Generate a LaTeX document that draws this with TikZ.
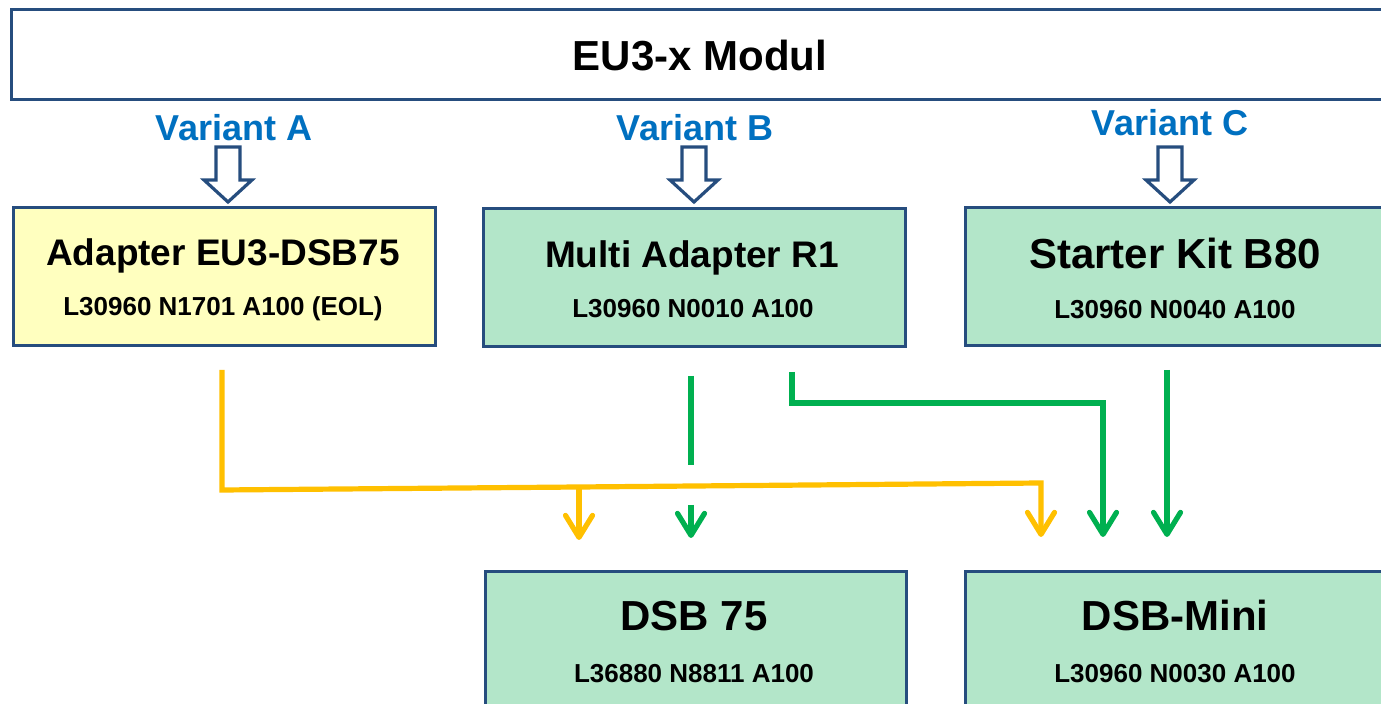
\documentclass[tikz,border=0pt]{standalone}
\usepackage{fontspec}
\setmainfont{Liberation Sans}
\usetikzlibrary{arrows.meta}
\definecolor{bord}{RGB}{38,77,126}
\definecolor{gfill}{RGB}{179,230,201}
\definecolor{yfill}{RGB}{255,255,191}
\definecolor{vblue}{RGB}{0,112,192}
\definecolor{ylw}{RGB}{255,192,0}
\definecolor{grn}{RGB}{0,176,80}
\begin{document}
\begin{tikzpicture}[x=0.5pt,y=-0.5pt,
  box/.style={draw=bord, line width=1.5pt, rectangle, inner sep=0pt, anchor=north west},
  txt/.style={inner sep=0pt, text depth=0pt, anchor=center},
  big/.style={txt, font=\bfseries\fontsize{21}{24}\selectfont, text height=15.1pt},
  mid/.style={txt, font=\bfseries\fontsize{18.5}{22}\selectfont, text height=13.3pt},
  small/.style={txt, font=\bfseries\fontsize{13}{15}\selectfont, text height=9.4pt},
  variant/.style={txt, text=vblue, font=\bfseries\fontsize{18}{21}\selectfont, text height=13pt},
  hollow/.style={draw=bord, line width=1.6pt, fill=white, line join=miter},
  tip/.style={-{Straight Barb[length=11pt,width=13.5pt,line cap=round,line join=round]}},
  yl/.style={draw=ylw, line width=2.6pt},
  gl/.style={draw=grn, line width=2.6pt}]
\useasboundingbox (0,0) rectangle (1381,704);
\clip (0,0) rectangle (1381,704);
\fill[white] (0,0) rectangle (1381,704);
% top module
\node[box, fill=white, minimum width=700pt, minimum height=45pt] (mod) at (10,8) {};
\node[big] (modt) at (700,55) {EU3-x Modul};
% variants
\node[variant] (va) at (234,128) {Variant A};
\node[variant] (vb) at (695,128) {Variant B};
\node[variant] (vc) at (1170,123) {Variant C};
\foreach \x in {228,694,1170}{
  \draw[hollow] ({\x-12},147) -- ({\x+12},147) -- ({\x+12},180) -- ({\x+24},180)
    -- (\x,202) -- ({\x-24},180) -- ({\x-12},180) -- cycle;
}
% boxes
\node[box, fill=yfill, minimum width=211pt, minimum height=69pt] (A) at (12,206) {};
\node[mid] (At) at (223,252) {Adapter EU3-DSB75};
\node[small] (As) at (223,306) {L30960 N1701 A100 (EOL)};
\node[box, fill=gfill, minimum width=211pt, minimum height=69pt] (B) at (482,207) {};
\node[mid] (Bt) at (692,254) {Multi Adapter R1};
\node[small] (Bs) at (693,308) {L30960 N0010 A100};
\node[box, fill=gfill, minimum width=216pt, minimum height=69pt] (C) at (964,206) {};
\node[big] (Ct) at (1175,253) {Starter Kit B80};
\node[small] (Cs) at (1175,309) {L30960 N0040 A100};
\node[box, fill=gfill, minimum width=210.5pt, minimum height=80pt] (D) at (484,570) {};
\node[big] (Dt) at (694,615) {DSB 75};
\node[small] (Ds) at (694,673) {L36880 N8811 A100};
\node[box, fill=gfill, minimum width=216pt, minimum height=80pt] (E) at (964,570) {};
\node[big] (Et) at (1175,615) {DSB-Mini};
\node[small] (Es) at (1175,673) {L30960 N0030 A100};
% connector coordinates
\coordinate (a0) at (222,370);
\coordinate (a1) at (222,490);
\coordinate (a2) at (579,487);
\coordinate (a3) at (1041,483);
\coordinate (ad) at (579,540);
\coordinate (ae) at (1041,537);
\coordinate (b0) at (691,376);
\coordinate (b1) at (691,465);
\coordinate (b2) at (691,505);
\coordinate (bd) at (691,538);
\coordinate (c0) at (792,372);
\coordinate (c1) at (792,403);
\coordinate (c2) at (1103,403);
\coordinate (ce) at (1103,537);
\coordinate (d0) at (1167,370);
\coordinate (de) at (1167,537);
% yellow
\draw[yl, tip] (a0) -- (a1) -- (a2) -- (a3) -- (ae);
\draw[yl, tip] (a2) -- (ad);
% green
\draw[gl] (b0) -- (b1);
\draw[gl, tip] (b2) -- (bd);
\draw[gl, tip] (c0) -- (c1) -- (c2) -- (ce);
\draw[gl, tip] (d0) -- (de);
\end{tikzpicture}
\end{document}
